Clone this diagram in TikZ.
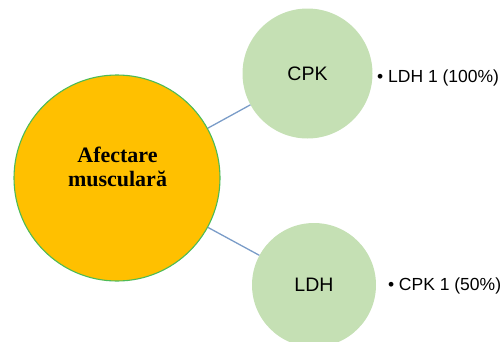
\documentclass[tikz,border=0pt]{standalone}
\usepackage{fontspec}
\setmainfont{Liberation Sans}
\newfontfamily\serifbold{Liberation Serif}
\definecolor{gold}{HTML}{FFC000}
\definecolor{ringgreen}{HTML}{4DBB57}
\definecolor{softgreen}{HTML}{C5E0B4}
\definecolor{linkblue}{HTML}{7A9CC8}
\tikzset{
  bigcirc/.style={circle, draw=ringgreen, line width=1.1pt, fill=gold, minimum size=206pt, inner sep=0pt},
  smallcirc/.style={circle, fill=softgreen, inner sep=0pt, font=\fontsize{19.5}{22}\selectfont},
  link/.style={draw=linkblue, line width=1.3pt},
  sidetext/.style={anchor=base west, inner sep=0pt, font=\fontsize{17.5}{20}\selectfont},
  bigtext/.style={align=center, inner sep=0pt, font=\serifbold\bfseries\fontsize{22}{24.5}\selectfont}
}
\begin{document}
\begin{tikzpicture}[x=1pt,y=-1pt]
\useasboundingbox (0,0) rectangle (504,341);
\node[bigcirc] (big) at (117,178) {};
\node[bigtext] (bigt) at (117.5,167) {Afectare\\ musculară};
\node[smallcirc, minimum size=130pt] (cpk) at (307.5,73.5) {CPK};
\node[smallcirc, minimum size=124pt] (ldh) at (314,285) {LDH};
\draw[link] (big) -- (cpk);
\draw[link] (big) -- (ldh);
\node[sidetext] (s1) at (377,82.3) {\textbullet\ LDH 1 (100\%)};
\node[sidetext] (s2) at (387.8,290) {\textbullet\ CPK 1 (50\%)};
\end{tikzpicture}
\end{document}
